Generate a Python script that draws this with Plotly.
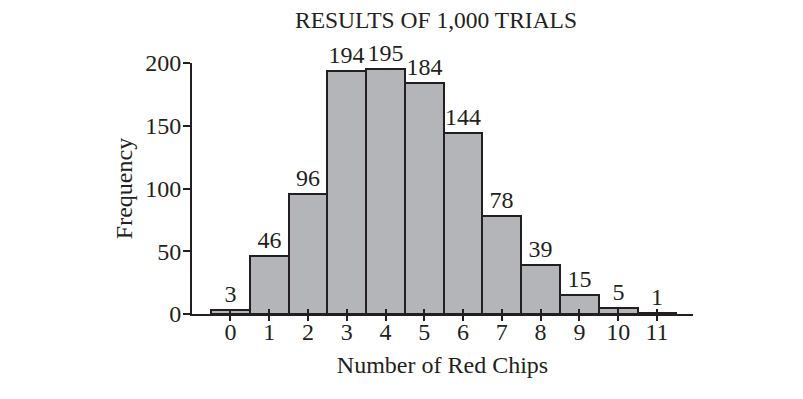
import plotly.graph_objects as go

red_chips = list(range(12))
frequency = [3, 46, 96, 194, 195, 184, 144, 78, 39, 15, 5, 1]
y_ticks = [0, 50, 100, 150, 200]
title_text = "RESULTS OF 1,000 TRIALS"
x_title = "Number of Red Chips"
y_title = "Frequency"

ink = "#231f20"
fnt = dict(family="Liberation Serif, Times New Roman, serif", size=24, color=ink)

fig = go.Figure()
fig.add_trace(go.Bar(
    x=red_chips, y=frequency, width=1,
    marker=dict(color="#b4b5b9", line=dict(color=ink, width=2)),
    text=[str(v) for v in frequency], textposition="outside",
    textfont=fnt, cliponaxis=False, constraintext="none",
    hoverinfo="skip", showlegend=False,
))
# invisible trace to anchor overlay axis for inner tick halves
fig.add_trace(go.Scatter(x=red_chips, y=frequency, xaxis="x2", mode="markers",
                         marker=dict(opacity=0), hoverinfo="skip", showlegend=False))

fig.update_layout(
    width=803, height=399,
    margin=dict(l=192, r=110, t=63, b=85),
    paper_bgcolor="white", plot_bgcolor="white",
    font=fnt,
    title=dict(text=title_text, x=436 / 803, xanchor="center", y=1 - 20 / 399, yanchor="middle",
               font=dict(family=fnt["family"], size=23.5, color=ink)),
    bargap=0,
    xaxis=dict(range=[-0.99, 11.93], tickvals=red_chips, ticks="outside", ticklen=5,
               tickwidth=1.5, tickcolor=ink, showline=True, linecolor=ink, linewidth=2,
               showgrid=False, zeroline=False, tickfont=fnt, ticklabelstandoff=-10,
               title=dict(text=x_title, font=fnt, standoff=12)),
    xaxis2=dict(range=[-0.99, 11.93], overlaying="x", side="bottom", anchor="y",
                tickvals=red_chips, ticks="inside", ticklen=5, tickwidth=1.5, tickcolor=ink,
                showticklabels=False, showline=False, showgrid=False, zeroline=False),
    yaxis=dict(range=[0, 200], tickvals=y_ticks, ticks="outside", ticklen=7, tickwidth=1.5,
               tickcolor=ink, showline=True, linecolor=ink, linewidth=2, showgrid=False,
               zeroline=False, tickfont=fnt, ticklabelstandoff=-3,
               title=dict(text=y_title, font=fnt, standoff=6)),
)

fig.write_html("out.html")
